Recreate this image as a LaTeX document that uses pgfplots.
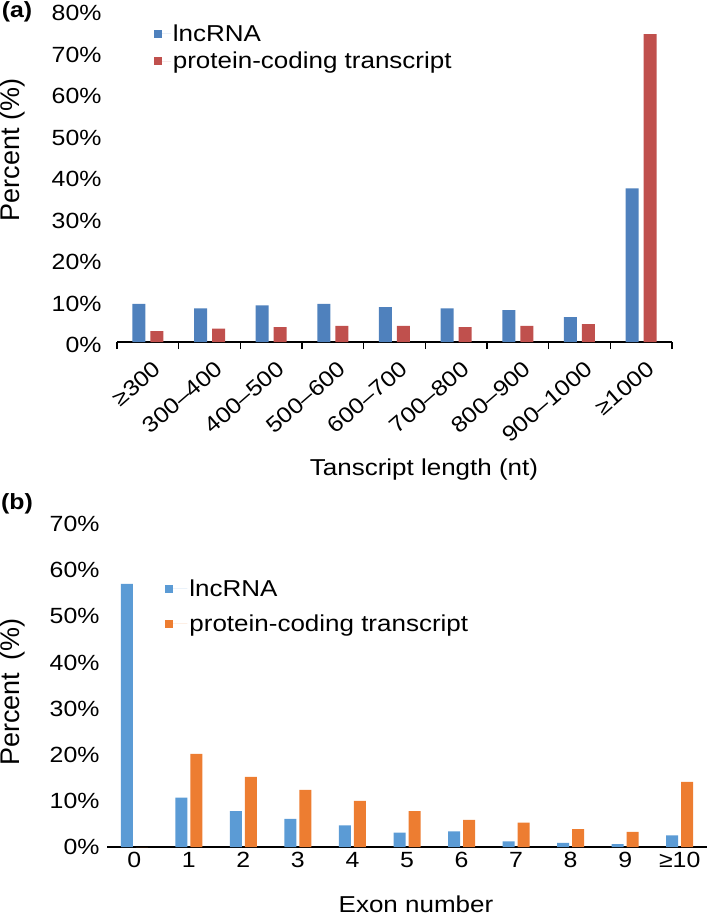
\documentclass[border=0pt]{standalone}
\usepackage{fontspec}
\setmainfont{Liberation Sans}[FakeStretch=1.13]
\newfontfamily\plainfont{Liberation Sans}
\usepackage{pgfplots}
\pgfplotsset{compat=1.18}
\definecolor{ablue}{HTML}{4F81BD}
\definecolor{ared}{HTML}{C0504D}
\definecolor{bblue}{HTML}{5B9BD5}
\definecolor{borange}{HTML}{ED7D31}
\begin{document}
\begin{tikzpicture}
\path[use as bounding box] (0pt,0pt) rectangle (709pt,-918pt);
% ---------------- panel (a)
\begin{axis}[
  at={(117pt,-342pt)}, anchor=south west,
  scale only axis, width=555pt, height=332pt,
  xmin=-0.5, xmax=8.5, ymin=0, ymax=80,
  ybar=5pt, bar width=13pt,
  axis x line*=bottom, axis y line*=left,
  y axis line style={draw=none},
  x axis line style={line width=1.5pt, black},
  ytick={0,10,...,80},
  yticklabels={0\%,10\%,20\%,30\%,40\%,50\%,60\%,70\%,80\%},
  yticklabel style={font=\fontsize{22}{22}\selectfont, xshift=-12pt, yshift=-3pt},
  xtick={0,...,8},
  xticklabels={≥300,300–400,400–500,500–600,600–700,700–800,800–900,900–1000,≥1000},
  xticklabel style={font=\fontsize{22}{22}\selectfont, rotate=41, anchor=north east, inner sep=0pt, xshift=-8pt, yshift=-16pt},
  major tick length=0pt,
  minor xtick={-0.5,0.5,...,8.5},
  minor tick length=7pt,
  xtick align=outside,
  every minor tick/.style={black, line width=1.2pt},
  legend image code/.code={\draw[#1,draw=none] (0pt,-4pt) rectangle (8pt,4pt); \path (0pt,0pt) -- (17pt,0pt);},
  legend style={at={(0.066,0.962)}, anchor=north west, draw=none, fill=none,
    font=\fontsize{23}{25}\selectfont, row sep=5pt, inner sep=0pt},
  legend cell align=left,
]
\addplot[fill=ablue, draw=none] coordinates {(0,9.2) (1,8.1) (2,8.8) (3,9.2) (4,8.4) (5,8.1) (6,7.7) (7,6.0) (8,37.0)};
\addplot[fill=ared, draw=none] coordinates {(0,2.6) (1,3.2) (2,3.6) (3,3.9) (4,3.9) (5,3.6) (6,3.9) (7,4.3) (8,74.2)};
\legend{lncRNA, protein-coding transcript}
\end{axis}
% ---------------- panel (b)
\begin{axis}[
  at={(107pt,-847pt)}, anchor=south west,
  scale only axis, width=600pt, height=323pt,
  xmin=-0.5, xmax=10.5, ymin=0, ymax=70,
  ybar=3pt, bar width=12pt,
  axis x line*=bottom, axis y line*=left,
  y axis line style={draw=none},
  x axis line style={line width=1.5pt, black},
  ytick={0,10,...,70},
  yticklabels={0\%,10\%,20\%,30\%,40\%,50\%,60\%,70\%},
  yticklabel style={font=\fontsize{22}{22}\selectfont, xshift=-4pt},
  xtick={0,...,10},
  xticklabels={0,1,2,3,4,5,6,7,8,9,≥10},
  xticklabel style={font=\fontsize{22}{22}\selectfont, yshift=-2pt},
  major tick length=0pt,
  legend image code/.code={\draw[#1,draw=none] (0pt,-4pt) rectangle (8pt,4pt); \path (0pt,0pt) -- (22pt,0pt);},
  legend style={at={(0.097,0.835)}, anchor=north west, draw=none, fill=none,
    font=\fontsize{23}{25}\selectfont, row sep=13pt, inner sep=0pt},
  legend cell align=left,
]
\addplot[fill=bblue, draw=none] coordinates {(0,57.0) (1,10.7) (2,7.8) (3,6.1) (4,4.7) (5,3.1) (6,3.4) (7,1.2) (8,0.9) (9,0.6) (10,2.5)};
\addplot[fill=borange, draw=none] coordinates {(0,0) (1,20.2) (2,15.2) (3,12.4) (4,10.0) (5,7.8) (6,5.9) (7,5.3) (8,3.9) (9,3.3) (10,14.1)};
\legend{lncRNA, protein-coding transcript}
\end{axis}
% ---------------- labels
\node[font=\bfseries\fontsize{22}{22}\selectfont] at (17pt,-12pt) {(a)};
\node[rotate=90, font=\plainfont\fontsize{27}{27}\selectfont] at (13pt,-150pt) {Percent (\%)};
\node[font=\fontsize{23}{23}\selectfont] at (424pt,-470pt) {Tanscript length (nt)};
\node[font=\bfseries\fontsize{22}{22}\selectfont] at (17pt,-504pt) {(b)};
\node[rotate=90, font=\plainfont\fontsize{27}{27}\selectfont] at (13pt,-692pt) {Percent\hspace{5pt} (\%)};
\node[font=\fontsize{23}{23}\selectfont] at (416pt,-904pt) {Exon number};
\end{tikzpicture}
\end{document}
